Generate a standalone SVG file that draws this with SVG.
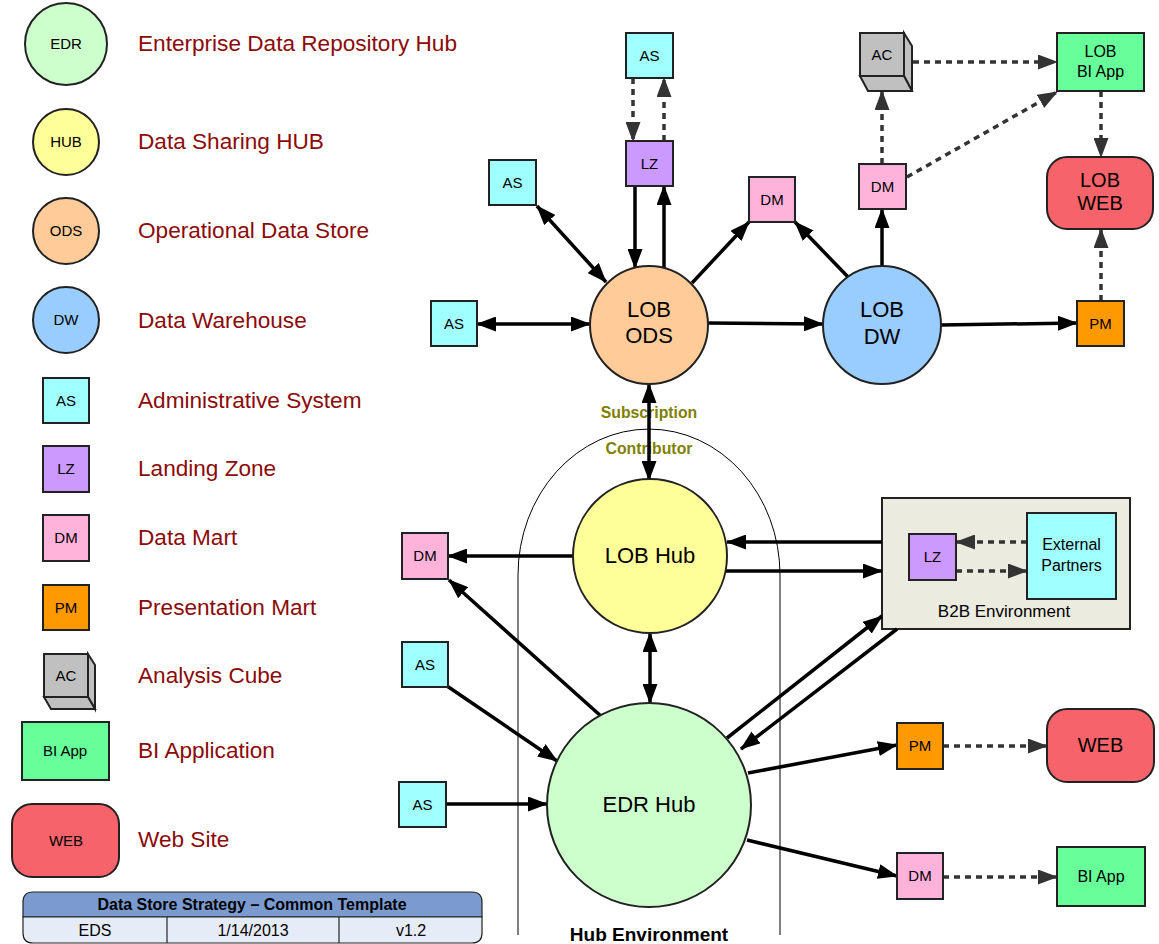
<svg xmlns="http://www.w3.org/2000/svg" width="1159" height="944" viewBox="0 0 1159 944">
<defs>
<style>
text{font-family:"Liberation Sans",Arial,sans-serif;fill:#000;text-anchor:middle}
.lg{font-size:22.6px;fill:#8b0a0a;text-anchor:start}
.s15{font-size:15px}
.s16{font-size:16px}
.s20{font-size:20px}
.s22{font-size:22px}
.box{stroke:#222;stroke-width:2}
.edr{fill:#ccffcc}
.hub{fill:#ffff99}
.ods{fill:#ffcc99}
.dw{fill:#99ccff}
.as{fill:#a0ffff}
.lz{fill:#cc99ff}
.dm{fill:#ffb3da}
.pm{fill:#ff9900}
.ac{fill:#c0c0c0}
.bi{fill:#66ff99}
.web{fill:#f7636a}
.sol{stroke:#000;stroke-width:3.5;fill:none}
.dsh{stroke:#333;stroke-width:3.5;fill:none;stroke-dasharray:6 5}
.ol{font-size:15.8px;font-weight:bold;fill:#808000}
</style>
<marker id="ah" markerUnits="userSpaceOnUse" viewBox="0 0 20 15" markerWidth="20" markerHeight="15" refX="19" refY="7.5" orient="auto-start-reverse"><path d="M0,0 L20,7.5 L0,15 z" fill="#000"/></marker>
<marker id="ahd" markerUnits="userSpaceOnUse" viewBox="0 0 20 15" markerWidth="20" markerHeight="15" refX="19" refY="7.5" orient="auto-start-reverse"><path d="M0,0 L20,7.5 L0,15 z" fill="#333"/></marker>
</defs>
<rect width="1159" height="944" fill="#fff"/>

<g id="legend">
<circle class="box edr" cx="66" cy="44" r="41" stroke-width="1.5"/><text class="s15" x="66" y="49">EDR</text>
<text class="lg" x="138" y="51">Enterprise Data Repository Hub</text>
<circle class="box hub" cx="66" cy="142" r="33" stroke-width="1.5"/><text class="s15" x="66" y="147">HUB</text>
<text class="lg" x="138" y="149">Data Sharing HUB</text>
<circle class="box ods" cx="66" cy="231" r="33" stroke-width="1.5"/><text class="s15" x="66" y="236">ODS</text>
<text class="lg" x="138" y="238">Operational Data Store</text>
<circle class="box dw" cx="66" cy="320" r="33" stroke-width="1.5"/><text class="s15" x="66" y="325">DW</text>
<text class="lg" x="138" y="328">Data Warehouse</text>
<rect class="box as" x="43" y="378" width="46" height="45" stroke-width="1.5"/><text class="s15" x="66" y="406">AS</text>
<text class="lg" x="138" y="408">Administrative System</text>
<rect class="box lz" x="43" y="446" width="46" height="46" stroke-width="1.5"/><text class="s15" x="66" y="474">LZ</text>
<text class="lg" x="138" y="476">Landing Zone</text>
<rect class="box dm" x="43" y="515" width="46" height="46" stroke-width="1.5"/><text class="s15" x="66" y="543">DM</text>
<text class="lg" x="138" y="545">Data Mart</text>
<rect class="box pm" x="43" y="585" width="46" height="45" stroke-width="1.5"/><text class="s15" x="66" y="613">PM</text>
<text class="lg" x="138" y="615">Presentation Mart</text>
<g class="box ac" stroke-width="1.5">
<polygon points="88,654 95,665 95,709 88,697"/>
<polygon points="44,697 88,697 95,709 51,709"/>
<rect x="44" y="654" width="44" height="43"/>
</g>
<text class="s15" x="66" y="681">AC</text>
<text class="lg" x="138" y="683">Analysis Cube</text>
<rect class="box bi" x="22" y="722" width="87" height="58" stroke-width="1.5"/><text class="s15" x="65" y="756">BI App</text>
<text class="lg" x="138" y="758">BI Application</text>
<rect class="box web" x="12" y="804" width="107" height="73" rx="20" stroke-width="1.5"/><text class="s15" x="66" y="846">WEB</text>
<text class="lg" x="138" y="847">Web Site</text>
</g>

<g id="title-block">
<path d="M23,917 V902 Q23,892 33,892 H472 Q482,892 482,902 V917 Z" fill="#7b9bcf" stroke="#222" stroke-width="1.2"/>
<path d="M23,917 H482 V933 Q482,943 472,943 H33 Q23,943 23,933 Z" fill="#e6ecf7" stroke="#222" stroke-width="1.2"/>
<line x1="167" y1="917" x2="167" y2="943" stroke="#222" stroke-width="1.2"/>
<line x1="339" y1="917" x2="339" y2="943" stroke="#222" stroke-width="1.2"/>
<text x="252" y="910" font-size="16" font-weight="bold">Data Store Strategy – Common Template</text>
<text class="s16" x="95" y="936">EDS</text>
<text class="s16" x="253" y="936">1/14/2013</text>
<text class="s16" x="411" y="936">v1.2</text>
</g>

<g id="hub-environment">
<path d="M518,935 V575 A131,146 0 0 1 780,575 V935" fill="none" stroke="#000" stroke-width="1"/>
<text x="649" y="941" font-size="19" font-weight="bold">Hub Environment</text>
<text class="ol" x="649" y="418">Subscription</text>
<text class="ol" x="649" y="454">Contributor</text>
</g>

<g id="b2b-environment">
<rect x="882" y="498" width="248" height="131" fill="#ebebe0" stroke="#222" stroke-width="2"/>
<text x="1004" y="617" font-size="17">B2B Environment</text>
</g>

<g id="connectors">
<path class="sol" d="M635,186 L635,268" marker-end="url(#ah)"/>
<path class="sol" d="M664,268 L664,186" marker-end="url(#ah)"/>
<path class="sol" d="M537,206 L606,282" marker-start="url(#ah)" marker-end="url(#ah)"/>
<path class="sol" d="M477,324 L590,324" marker-start="url(#ah)" marker-end="url(#ah)"/>
<path class="sol" d="M692,283 L749,222" marker-end="url(#ah)"/>
<path class="sol" d="M849,278 L795,222" marker-end="url(#ah)"/>
<path class="sol" d="M708,323 L823,324" marker-end="url(#ah)"/>
<path class="sol" d="M882,266 L882,209" marker-end="url(#ah)"/>
<path class="sol" d="M941,325 L1077,323" marker-end="url(#ah)"/>
<path class="sol" d="M649,384 L649,480" marker-start="url(#ah)" marker-end="url(#ah)"/>
<path class="sol" d="M573,556 L448,556" marker-end="url(#ah)"/>
<path class="sol" d="M882,542 L727,542" marker-end="url(#ah)"/>
<path class="sol" d="M726,571 L882,571" marker-end="url(#ah)"/>
<path class="sol" d="M650,633 L650,703" marker-start="url(#ah)" marker-end="url(#ah)"/>
<path class="sol" d="M602,717 L449,580" marker-end="url(#ah)"/>
<path class="sol" d="M447,686 L557,761" marker-end="url(#ah)"/>
<path class="sol" d="M446,804 L547,804" marker-end="url(#ah)"/>
<path class="sol" d="M727,738 L882,616" marker-end="url(#ah)"/>
<path class="sol" d="M897,629 L741,749" marker-end="url(#ah)"/>
<path class="sol" d="M748,773 L897,745" marker-end="url(#ah)"/>
<path class="sol" d="M747,840 L897,876" marker-end="url(#ah)"/>
<path class="dsh" d="M633,78 L633,141" marker-end="url(#ahd)"/>
<path class="dsh" d="M664,141 L664,78" marker-end="url(#ahd)"/>
<path class="dsh" d="M882,164 L882,91" marker-end="url(#ahd)"/>
<path class="dsh" d="M913,62 L1057,62" marker-end="url(#ahd)"/>
<path class="dsh" d="M907,177 L1057,92" marker-end="url(#ahd)"/>
<path class="dsh" d="M1101,91 L1101,157" marker-end="url(#ahd)"/>
<path class="dsh" d="M1101,301 L1101,229" marker-end="url(#ahd)"/>
<path class="dsh" d="M1027,542 L956,542" marker-end="url(#ahd)"/>
<path class="dsh" d="M956,571 L1027,571" marker-end="url(#ahd)"/>
<path class="dsh" d="M943,746 L1047,746" marker-end="url(#ahd)"/>
<path class="dsh" d="M943,877 L1057,877" marker-end="url(#ahd)"/>
</g>

<g id="as-top"><rect class="box as" x="626" y="33" width="47" height="45"/><text class="s15" x="649.5" y="61">AS</text></g>
<g id="lz-top"><rect class="box lz" x="626" y="141" width="47" height="45"/><text class="s15" x="649.5" y="169">LZ</text></g>
<g id="as-upper-left"><rect class="box as" x="489" y="160" width="47" height="45"/><text class="s15" x="512.5" y="188">AS</text></g>
<g id="as-left"><rect class="box as" x="431" y="301" width="46" height="45"/><text class="s15" x="454" y="329">AS</text></g>
<g id="lob-ods"><circle class="box ods" cx="649" cy="325" r="59"/><text class="s22" x="649" y="317">LOB</text><text class="s22" x="649" y="343">ODS</text></g>
<g id="dm-mid"><rect class="box dm" x="749" y="177" width="46" height="45"/><text class="s15" x="772" y="205">DM</text></g>
<g id="lob-dw"><circle class="box dw" cx="882" cy="325" r="59"/><text class="s22" x="882" y="317">LOB</text><text class="s22" x="882" y="344">DW</text></g>
<g id="dm-top-right"><rect class="box dm" x="859" y="164" width="47" height="45"/><text class="s15" x="882.5" y="192">DM</text></g>
<g id="ac-top">
<g class="box ac">
<polygon points="904,33 912,46 912,91 904,76"/>
<polygon points="860,76 904,76 912,91 868,91"/>
<rect x="860" y="33" width="44" height="43"/>
</g>
<text class="s15" x="882" y="60">AC</text></g>
<g id="lob-bi-app"><rect class="box bi" x="1057" y="33" width="87" height="58"/><text class="s16" x="1100.5" y="57">LOB</text><text class="s16" x="1100.5" y="77">BI App</text></g>
<g id="lob-web"><rect class="box web" x="1047" y="157" width="106" height="72" rx="20" stroke-width="1.5"/><text class="s20" x="1100" y="187">LOB</text><text class="s20" x="1100" y="210">WEB</text></g>
<g id="pm-top"><rect class="box pm" x="1077" y="301" width="47" height="45"/><text class="s15" x="1100.5" y="329">PM</text></g>
<g id="lob-hub"><circle class="box hub" cx="650" cy="556" r="77"/><text class="s22" x="650" y="563">LOB Hub</text></g>
<g id="dm-left"><rect class="box dm" x="402" y="533" width="46" height="46"/><text class="s15" x="425" y="561">DM</text></g>
<g id="as-mid-left"><rect class="box as" x="402" y="642" width="46" height="45"/><text class="s15" x="425" y="670">AS</text></g>
<g id="as-bottom-left"><rect class="box as" x="399" y="782" width="47" height="45"/><text class="s15" x="422.5" y="810">AS</text></g>
<g id="edr-hub"><circle class="box edr" cx="649" cy="805" r="102"/><text class="s22" x="649" y="812">EDR Hub</text></g>
<g id="lz-b2b"><rect class="box lz" x="909" y="534" width="47" height="46"/><text class="s15" x="932.5" y="562">LZ</text></g>
<g id="external-partners"><rect class="box as" x="1027" y="513" width="89" height="86"/><text class="s16" x="1071.5" y="550">External</text><text class="s16" x="1071.5" y="571">Partners</text></g>
<g id="pm-bottom"><rect class="box pm" x="897" y="723" width="46" height="46"/><text class="s15" x="920" y="751">PM</text></g>
<g id="web-bottom"><rect class="box web" x="1047" y="709" width="107" height="73" rx="20" stroke-width="1.5"/><text class="s20" x="1100.5" y="752">WEB</text></g>
<g id="dm-bottom"><rect class="box dm" x="897" y="853" width="46" height="46"/><text class="s15" x="920" y="881">DM</text></g>
<g id="bi-app-bottom"><rect class="box bi" x="1057" y="847" width="88" height="59"/><text class="s16" x="1101" y="882">BI App</text></g>
</svg>
